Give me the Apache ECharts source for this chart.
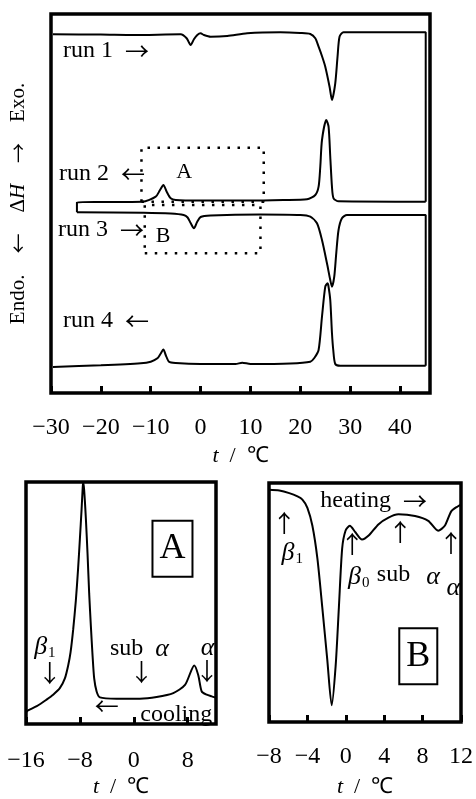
<!DOCTYPE html>
<html>
<head>
<meta charset="utf-8">
<script src="https://cdn.jsdelivr.net/npm/echarts@6/dist/echarts.min.js"></script>
<style>
html, body { margin: 0; padding: 0; background: #fff; }
#chart { width: 476px; height: 799px; }
</style>
</head>
<body>
<div id="chart"></div>
<script>
// DSC traces: temperature (°C) vs heat-flow offset (arbitrary units).
// The four runs form one continuous heating/cooling loop.
const run1 = [[-29.6,35.87],[-20,35.85],[-13.4,35.8],[-4,35.87],[-2.8,35.47],[-2,34.8],[-1.34,35.37],[-0.66,35.8],[0,35.97],[0.66,35.8],[2,35.63],[5.34,35.7],[9.34,35.97],[16,36.07],[20,36.0],[22,35.9],[23,35.47],[23.66,34.63],[24.4,33.6],[25,32.63],[25.86,30.63],[26.34,29.3],[27,30.97],[27.46,33.63],[27.86,35.63],[28.66,36.07],[32,36.07],[45.14,36.07],[45.14,19.13]];
const run2 = [[45.14,19.13],[27.66,19.17],[26.66,19.47],[26.34,20.63],[26.0,23.63],[25.66,26.63],[25.2,27.3],[24.34,25.3],[24.0,22.63],[23.66,20.63],[23.0,19.8],[21.34,19.37],[16.6,19.3],[10,19.25],[0,19.25],[-5,19.3],[-6,19.47],[-6.8,20.13],[-7.46,20.8],[-8.14,20.3],[-9,19.63],[-11.66,19.13],[-20,19.1],[-24.8,19.07],[-24.8,18.07]];
const run3 = [[-24.8,18.07],[-11.4,18.03],[-6,17.95],[-3.4,17.8],[-2.6,17.55],[-2,17.0],[-1.34,16.47],[-0.7,17.1],[0,17.6],[2,17.75],[12,17.85],[20,17.8],[22,17.63],[23.34,16.97],[24.34,15.3],[25.34,12.97],[26,11.3],[26.34,10.63],[26.8,11.63],[27.2,13.97],[27.66,16.3],[28.34,17.47],[29.34,17.8],[45.14,17.8],[45.14,2.73]];
const run4 = [[45.14,2.73],[28,2.73],[27,2.9],[26.6,4.3],[26.34,6.0],[26,9.3],[25.6,10.8],[25.46,10.97],[25,10.63],[24.34,7.63],[23.66,4.3],[22.8,3.5],[22,3.13],[18,2.95],[10,2.9],[8.34,3.03],[7,2.9],[0,2.9],[-5,3.0],[-6.34,3.13],[-7,3.8],[-7.46,4.35],[-8.06,3.9],[-8.66,3.47],[-10,3.13],[-12,2.97],[-20,2.77],[-29.6,2.6]];

// Enlarged cooling trace (region A) and heating trace (region B)
const coolA = [[-16,1.2],[-15.7,1.4],[-14.4,1.83],[-12.95,2.5],[-11.97,3.0],[-10.98,3.67],[-10.23,4.67],[-9.74,6.0],[-9.39,7.33],[-9.0,9.67],[-8.6,12.67],[-8.26,16.0],[-8.0,19.0],[-7.75,22.0],[-7.6,24.0],[-7.52,24.8],[-7.37,24.0],[-7.11,21.0],[-6.86,17.33],[-6.62,13.33],[-6.37,10.0],[-6.12,7.0],[-5.88,4.67],[-5.52,3.33],[-5.03,2.73],[-2.55,2.6],[0.91,2.6],[3.39,2.77],[5.86,3.17],[7.6,4.0],[8.98,6.0],[9.57,5.0],[10.08,3.33],[10.82,3.0],[11.56,2.83],[12.2,2.7]];
const heatB = [[-8.0,23.7],[-6.92,23.63],[-5.89,23.37],[-5.03,23.03],[-4.52,22.7],[-4.0,21.87],[-3.48,20.03],[-2.96,16.7],[-2.45,11.7],[-1.93,6.37],[-1.47,1.7],[-1.06,5.7],[-0.72,11.7],[-0.38,17.7],[-0.03,19.53],[0.42,20.03],[1.0,19.37],[1.69,18.63],[2.38,19.03],[3.42,20.2],[4.45,20.87],[5.48,21.2],[7.21,21.03],[8.59,20.53],[9.62,19.53],[10.31,20.03],[11.0,21.53],[11.69,22.03],[12,22.2]];

// Enlarged regions marked on the main plot: [tFrom, tTo, yLow, yHigh]
const regionA = [-11.86, 12.66, 19.13, 24.53];
const regionB = [-11.2, 12.0, 13.97, 18.8];

// Axis ranges and tick steps
const mainT = { min: -30, max: 46, step: 10 };
const insetAT = { min: -16, max: 12.2, step: 8 };
const insetBT = { min: -8, max: 12, step: 4 };

// Text notes: [t, y, text]
const mainNotesLeft = [[-27.6,34.2,'run 1  {a|→}'],[-28.4,21.9,'run 2  {a|←}'],[-28.6,16.3,'run 3  {a|→}'],[-27.6,7.2,'run 4  {a|←}']];
const mainNotesCenter = [[-3.3,22.05,'A'],[-7.5,15.65,'B']];
const notesA = [[-13.2,7.9,'{g|β}{s|1}'],[-12.46,5.2,'{v|↓}'],[0.84,7.7,'sub  {g|α}'],[1.16,5.3,'{v|↓}'],[10.94,7.8,'{g|α}'],[10.87,5.4,'{v|↓}'],[-4.0,1.9,'{a|←}'],[6.3,1.0,'cooling']];
const notesB = [[2.9,22.6,'heating  {a|→}'],[-6.4,20.3,'{v|↑}'],[-5.58,17.2,'{g|β}{s|1}'],[0.66,18.2,'{v|↑}'],[1.35,14.8,'{g|β}{s|0}'],[4.97,15.0,'sub'],[5.66,19.4,'{v|↑}'],[9.1,14.8,'{g|α}'],[10.97,18.3,'{v|↑}'],[11.2,13.7,'{g|α}']];
const boxNotes = [[5.74,17.95,'A'],[7.55,6.7,'B']];

const SERIF = "'Liberation Serif', 'Times New Roman', serif";
const ARROWS = "'Noto Sans CJK JP', 'DejaVu Sans', sans-serif";
const INK = '#000';

const chart = echarts.init(document.getElementById('chart'), null, { renderer: 'canvas' });

const minus = v => String(v).replace('-', '−');

function xAxisFor(gridIndex, range, gap, margin) {
  return {
    type: 'value', gridIndex, min: range.min, max: range.max, interval: range.step,
    axisLine: { show: false },
    axisTick: { show: true, inside: true, length: 7, lineStyle: { color: INK, width: 3 } },
    axisLabel: { show: true, margin, fontFamily: SERIF, fontSize: 24, color: INK,
                 formatter: minus, showMaxLabel: range.max % range.step === 0, showMinLabel: true },
    splitLine: { show: false },
    name: '{i|t}  /  ℃', nameLocation: 'middle', nameGap: gap,
    nameTextStyle: { fontFamily: SERIF, fontSize: 22, color: INK,
                     rich: { i: { fontStyle: 'italic', fontFamily: SERIF, fontSize: 22 } } }
  };
}

function yAxisFor(gridIndex, max, named) {
  const ax = {
    type: 'value', gridIndex, min: 0, max,
    axisLine: { show: false }, axisTick: { show: false }, axisLabel: { show: false },
    splitLine: { show: false }
  };
  if (named) {
    ax.name = 'Endo.    {a|←}    Δ{i|H}    {a|→}    Exo.';
    ax.nameLocation = 'middle';
    ax.nameRotate = 90;
    ax.nameGap = 22;
    ax.nameTextStyle = { fontFamily: SERIF, fontSize: 21, color: INK,
                         rich: { i: { fontStyle: 'italic', fontFamily: SERIF, fontSize: 21 },
                                 a: { fontFamily: ARROWS, fontSize: 20 } } };
  }
  return ax;
}

function trace(data, idx) {
  return {
    type: 'line', xAxisIndex: idx, yAxisIndex: idx, data,
    showSymbol: false, symbol: 'none', smooth: 0.25, clip: true,
    lineStyle: { color: INK, width: 2 }, silent: true, z: 3
  };
}

function dottedBox(r) {
  return {
    type: 'line', xAxisIndex: 0, yAxisIndex: 0, symbol: 'none', silent: true, z: 2,
    data: [[r[0], r[2]], [r[1], r[2]], [r[1], r[3]], [r[0], r[3]], [r[0], r[2]]],
    lineStyle: { color: INK, width: 2.5, type: [2.5, 7.5] }
  };
}

const richText = {
  g: { fontFamily: SERIF, fontSize: 26, fontStyle: 'italic', color: INK },
  s: { fontFamily: SERIF, fontSize: 15, color: INK, padding: [12, 0, 0, 1] },
  a: { fontFamily: ARROWS, fontSize: 24, color: INK },
  v: { fontFamily: ARROWS, fontSize: 24, color: INK }
};

function notes(list, idx, position, size) {
  return {
    type: 'scatter', xAxisIndex: idx, yAxisIndex: idx, symbolSize: 0, silent: true, z: 5,
    clip: false, itemStyle: { opacity: 1, color: INK },
    data: list.map(n => ({ value: [n[0], n[1]], name: n[2] })),
    label: { show: true, position, distance: 0, formatter: p => p.name, opacity: 1,
             fontFamily: SERIF, fontSize: size, color: INK, rich: richText }
  };
}

function boxed(list, idx) {
  return {
    type: 'scatter', xAxisIndex: idx, yAxisIndex: idx, symbolSize: 0, silent: true, z: 5,
    itemStyle: { opacity: 1, color: INK },
    data: list.map(n => ({ value: [n[0], n[1]], name: n[2] })),
    label: { show: true, position: 'inside', formatter: p => p.name, opacity: 1,
             fontFamily: SERIF, fontSize: 36, lineHeight: 36, color: INK,
             borderColor: INK, borderWidth: 2, padding: [9, 6, 9, 6], backgroundColor: '#fff' }
  };
}

const frame = { show: true, borderColor: INK, borderWidth: 3.5, backgroundColor: 'transparent' };

chart.setOption({
  backgroundColor: '#fff',
  animation: false,
  grid: [
    Object.assign({ left: 50, top: 14, width: 380, height: 379 }, frame),
    Object.assign({ left: 26, top: 482, width: 190, height: 248 }, frame),
    Object.assign({ left: 269, top: 483, width: 194, height: 244 }, frame)
  ],
  xAxis: [xAxisFor(0, mainT, 52, 23), xAxisFor(1, insetAT, 52, 25), xAxisFor(2, insetBT, 54, 23)],
  yAxis: [yAxisFor(0, 37.9, true), yAxisFor(1, 24.8, false), yAxisFor(2, 24.4, false)],
  series: [
    trace(run1, 0), trace(run2, 0), trace(run3, 0), trace(run4, 0),
    dottedBox(regionA), dottedBox(regionB),
    notes(mainNotesLeft, 0, 'right', 24),
    notes(mainNotesCenter, 0, 'inside', 22),
    trace(coolA, 1),
    notes(notesA, 1, 'inside', 24),
    boxed(boxNotes.slice(0, 1), 1),
    trace(heatB, 2),
    notes(notesB, 2, 'inside', 24),
    boxed(boxNotes.slice(1), 2)
  ]
});
</script>
</body>
</html>
